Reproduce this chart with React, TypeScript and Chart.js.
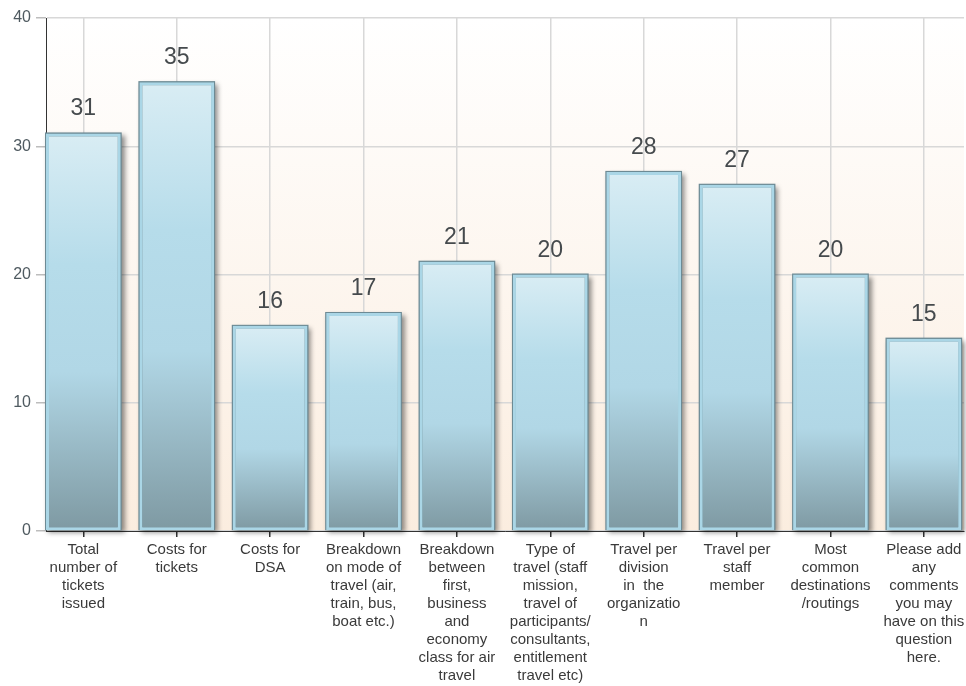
import React, { useEffect, useRef } from "react";
import { Chart, registerables } from "chart.js";

Chart.register(...registerables);

const categories: string[][] = [
  ["Total", "number of", "tickets", "issued"],
  ["Costs for", "tickets"],
  ["Costs for", "DSA"],
  ["Breakdown", "on mode of", "travel (air,", "train, bus,", "boat etc.)"],
  ["Breakdown", "between", "first,", "business", "and", "economy", "class for air", "travel"],
  ["Type of", "travel (staff", "mission,", "travel of", "participants/", "consultants,", "entitlement", "travel etc)"],
  ["Travel per", "division", "in  the", "organizatio", "n"],
  ["Travel per", "staff", "member"],
  ["Most", "common", "destinations", "/routings"],
  ["Please add", "any", "comments", "you may", "have on this", "question", "here."],
];
const values: number[] = [31, 35, 16, 17, 21, 20, 28, 27, 20, 15];
const yTicks: number[] = [0, 10, 20, 30, 40];

const FONT = "'Liberation Sans', Arial, sans-serif";

const bgPlugin = {
  id: "plotBg",
  beforeDraw(chart: any) {
    const { ctx, chartArea } = chart;
    if (!chartArea) return;
    const g = ctx.createLinearGradient(0, chartArea.top, 0, chartArea.bottom);
    g.addColorStop(0, "#ffffff");
    g.addColorStop(1, "#fbeddf");
    ctx.save();
    ctx.fillStyle = g;
    ctx.fillRect(chartArea.left, chartArea.top, chartArea.right - chartArea.left, chartArea.bottom - chartArea.top);
    ctx.restore();
  },
};

const shadowPlugin = {
  id: "barShadow",
  beforeDatasetsDraw(chart: any) {
    const { ctx } = chart;
    const meta = chart.getDatasetMeta(0);
    ctx.save();
    meta.data.forEach((el: any) => {
      const { x, y, base, width } = el.getProps(["x", "y", "base", "width"], true);
      ctx.save();
      ctx.shadowColor = "rgba(0,0,0,0.45)";
      ctx.shadowOffsetX = 3;
      ctx.shadowOffsetY = 3;
      ctx.shadowBlur = 5;
      ctx.fillStyle = "#6d8a94";
      ctx.fillRect(x - width / 2 - 1, y - 1, width + 2, base - y + 1);
      ctx.restore();
    });
    ctx.restore();
  },
};

const labelPlugin = {
  id: "valueLabels",
  afterDatasetsDraw(chart: any) {
    const { ctx } = chart;
    const meta = chart.getDatasetMeta(0);
    ctx.save();
    ctx.font = `23px ${FONT}`;
    ctx.fillStyle = "#454a4d";
    ctx.textAlign = "center";
    ctx.textBaseline = "alphabetic";
    meta.data.forEach((el: any, i: number) => {
      const { x, y } = el.getProps(["x", "y"], true);
      ctx.fillText(String(values[i]), x, y - 18);
    });
    ctx.restore();
  },
};

export default function App() {
  const ref = useRef<HTMLCanvasElement | null>(null);

  useEffect(() => {
    if (!ref.current) return;
    const chart = new Chart(ref.current, {
      type: "bar",
      data: {
        datasets: [
          {
            data: values.map((v, i) => ({ x: i, y: v })),
            backgroundColor: (c: any) => {
              const ch = c.chart;
              if (!ch.chartArea || c.type !== "data" || !ch.scales.y) return "#b3d9e8";
              const top = ch.scales.y.getPixelForValue(c.raw.y);
              const bottom = ch.scales.y.getPixelForValue(0);
              const g = ch.ctx.createLinearGradient(0, top, 0, bottom);
              g.addColorStop(0, "#d9edf4");
              g.addColorStop(0.33, "#b6dcea");
              g.addColorStop(0.6, "#b1d7e6");
              g.addColorStop(1, "#7e99a2");
              return g;
            },
            borderColor: "#aad6e6",
            borderWidth: 3,
            borderSkipped: false,
            barPercentage: 0.8,
            categoryPercentage: 1,
          } as any,
        ],
      },
      options: {
        animation: false,
        responsive: false,
        maintainAspectRatio: false,
        layout: { padding: { top: 18, right: 2, left: 0, bottom: 0 } },
        plugins: { legend: { display: false }, tooltip: { enabled: false } },
        scales: {
          x: {
            type: "linear",
            min: -0.4,
            max: 9.43,
            offset: false,
            afterBuildTicks: (s: any) => {
              s.ticks = categories.map((_, i) => ({ value: i }));
            },
            afterFit: (s: any) => {
              s.height = 155;
              s.paddingLeft = 0;
              s.paddingRight = 0;
            },
            ticks: {
              callback: (v: any) => categories[v] ?? "",
              autoSkip: false,
              maxRotation: 0,
              minRotation: 0,
              font: { family: FONT, size: 15, lineHeight: 1.2 },
              color: "#3a3a3a",
              padding: 4,
            },
            grid: { offset: false, color: "#d8d8d8", lineWidth: 1.5, tickColor: "#333", tickLength: 6 },
            border: { color: "#333", width: 1 },
          },
          y: {
            min: 0,
            max: 40,
            afterBuildTicks: (s: any) => {
              s.ticks = yTicks.map((v) => ({ value: v }));
            },
            afterFit: (s: any) => {
              s.width = 46;
            },
            ticks: { font: { family: FONT, size: 16 }, color: "#4f5a60", padding: 5 },
            grid: { color: "#d8d8d8", lineWidth: 1.5, tickColor: "#bdbdbd", tickLength: 10 },
            border: { color: "#333", width: 1 },
          },
        } as any,
      },
      plugins: [bgPlugin, shadowPlugin, labelPlugin],
    } as any);
    return () => chart.destroy();
  }, []);

  return (
    <div style={{ position: "absolute", left: 0, top: 0, width: 966, height: 686, background: "#fff" }}>
      <canvas ref={ref} width={966} height={686} style={{ display: "block" }} />
    </div>
  );
}
